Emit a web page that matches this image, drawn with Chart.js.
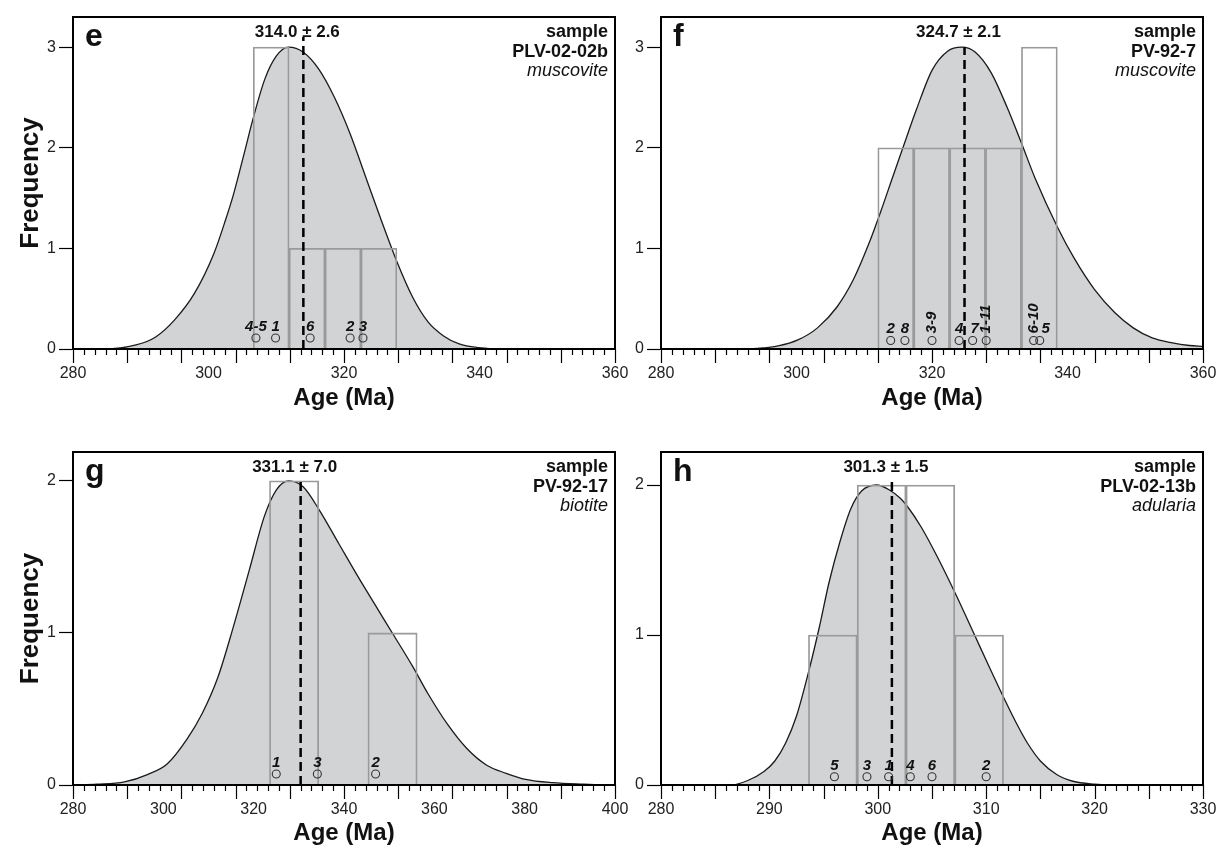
<!DOCTYPE html>
<html>
<head>
<meta charset="utf-8">
<script src="https://cdn.jsdelivr.net/npm/chart.js@4.4.0/dist/chart.umd.min.js"></script>
<style>
  body { margin: 0; background: #fff; width: 1218px; height: 849px; position: relative; overflow: hidden; }
  .panel { position: absolute; }
</style>
</head>
<body>
<div class="panel" style="left:0;top:0"><canvas id="chartE" width="630" height="420"></canvas></div>
<div class="panel" style="left:588px;top:0"><canvas id="chartF" width="630" height="420"></canvas></div>
<div class="panel" style="left:0;top:430px"><canvas id="chartG" width="630" height="419"></canvas></div>
<div class="panel" style="left:588px;top:430px"><canvas id="chartH" width="630" height="419"></canvas></div>
<script>
// tick labels
const ageTicksE = [280, 300, 320, 340, 360];
const ageTicksF = [280, 300, 320, 340, 360];
const ageTicksG = [280, 300, 320, 340, 360, 380, 400];
const ageTicksH = [280, 290, 300, 310, 320, 330];
const freqTicks3 = [0, 1, 2, 3];
const freqTicks2 = [0, 1, 2];

// e - PLV-02-02b muscovite
const eCurveAge = [280, 284.5, 289.3, 292.2, 295.0, 297.9, 300.8, 302.5, 303.7, 305.4, 306.5, 308.3, 310.0, 311.8, 314.0, 316.3, 318.6, 320.9, 323.2, 325.5, 327.8, 330.1, 332.4, 334.7, 337.0, 339.9, 343.3, 360];
const eCurveFreq = [0, 0, 0.04, 0.12, 0.29, 0.55, 0.95, 1.28, 1.54, 1.98, 2.27, 2.68, 2.91, 3.0, 2.95, 2.78, 2.5, 2.14, 1.71, 1.28, 0.87, 0.52, 0.27, 0.13, 0.05, 0.013, 0, 0];
const eBinEdges = [306.6, 311.9, 317.2, 322.5, 327.8];
const eBinCounts = [3, 1, 1, 1];
const eGrainAge = [307.0, 309.9, 315.0, 320.9, 322.8];
const eGrainLabel = ['4-5', '1', '6', '2', '3'];
const eMean = 314.0;
const eMeanText = '314.0 ± 2.6';

// f - PV-92-7 muscovite
const fCurveAge = [280, 292.6, 295.0, 297.3, 300.2, 303.1, 306.0, 308.4, 310.7, 312.4, 314.2, 315.6, 317.7, 320.0, 322.3, 324.4, 326.4, 328.7, 331.1, 333.3, 335.2, 338.6, 341.0, 344.0, 347.0, 349.7, 352.5, 355.5, 358.0, 360];
const fCurveFreq = [0, 0, 0.01, 0.03, 0.09, 0.21, 0.42, 0.69, 1.05, 1.36, 1.71, 1.98, 2.38, 2.77, 2.96, 3.0, 2.95, 2.75, 2.40, 2.03, 1.70, 1.20, 0.90, 0.59, 0.36, 0.21, 0.11, 0.06, 0.035, 0.026];
const fBinEdges = [312.0, 317.3, 322.6, 327.9, 333.2, 338.5];
const fBinCounts = [2, 2, 2, 2, 3];
const fGrainAge = [313.9, 316.0, 320.0, 324.0, 326.0, 328.0, 335.0, 335.9];
const fGrainLabel = ['2', '8', '3-9', '4', '7', '1-11', '6-10', '5'];
const fMean = 324.8;
const fMeanText = '324.7 ± 2.1';

// g - PV-92-17 biotite
const gCurveAge = [280, 285.3, 291.4, 296.6, 300.9, 305.2, 308.6, 312.1, 315.5, 319.0, 322.4, 325.0, 327.8, 331.0, 334.5, 338.8, 343.1, 347.4, 350.9, 355.2, 358.6, 362.9, 367.2, 371.6, 375.9, 380.2, 386.2, 393.1, 398.3, 400];
const gCurveFreq = [0, 0.005, 0.02, 0.07, 0.14, 0.30, 0.47, 0.71, 1.04, 1.41, 1.77, 1.94, 2.0, 1.96, 1.81, 1.59, 1.37, 1.16, 0.99, 0.78, 0.60, 0.40, 0.24, 0.13, 0.077, 0.037, 0.015, 0.005, 0, 0];
const gBinEdges = [323.5, 334.4, 345.3, 356.2];
const gBinCounts = [2, 0, 1];
const gGrainAge = [325.0, 334.1, 347.0];
const gGrainLabel = ['1', '3', '2'];
const gMean = 330.4;
const gMeanText = '331.1 ± 7.0';

// h - PLV-02-13b adularia
const hCurveAge = [280, 286.5, 288.0, 289.5, 290.5, 291.5, 292.5, 293.6, 294.6, 295.5, 296.5, 297.5, 298.5, 299.9, 301.0, 302.1, 302.7, 304.0, 305.5, 307.2, 308.8, 310.2, 311.7, 312.8, 313.8, 315.0, 316.5, 318.0, 320.0, 322.0, 330];
const hCurveFreq = [0, 0, 0.03, 0.09, 0.16, 0.28, 0.46, 0.75, 1.05, 1.35, 1.62, 1.84, 1.96, 2.0, 1.97, 1.91, 1.86, 1.72, 1.52, 1.27, 1.02, 0.80, 0.57, 0.41, 0.28, 0.16, 0.07, 0.025, 0.006, 0, 0];
const hBinEdges = [293.6, 298.1, 302.6, 307.1, 311.6];
const hBinCounts = [1, 2, 2, 1];
const hGrainAge = [296.0, 299.0, 301.0, 303.0, 305.0, 310.0];
const hGrainLabel = ['5', '3', '1', '4', '6', '2'];
const hMean = 301.3;
const hMeanText = '301.3 ± 1.5';

const FONT = '"Liberation Sans", Arial, sans-serif';
Chart.defaults.font.family = FONT;
Chart.defaults.color = '#222';

// labels that stand on end above their circle, and small sideways nudges
const uprightLabels = ['3-9', '1-11', '6-10'];
const labelNudge = { 'f5': 6, 'f7': 2 };

function decor(o) {
  return {
    id: 'decor' + o.letter,
    afterDraw(chart) {
      const { ctx, chartArea: a, scales: { x, y } } = chart;
      ctx.save();
      // x tick marks: 10 major divisions, 5 minor each
      ctx.strokeStyle = '#000';
      ctx.lineWidth = 1.2;
      const n = 50;
      for (let i = 0; i <= n; i++) {
        const v = x.min + (x.max - x.min) * i / n;
        const px = Math.round(x.getPixelForValue(v)) + 0.5;
        const len = i % 5 === 0 ? 14 : 6;
        ctx.beginPath();
        ctx.moveTo(px, a.bottom);
        ctx.lineTo(px, a.bottom + len);
        ctx.stroke();
      }
      // frame
      ctx.lineWidth = 2;
      ctx.strokeRect(a.left, a.top, a.right - a.left, a.bottom - a.top);

      ctx.fillStyle = '#111';
      // panel letter
      ctx.font = 'bold 32px ' + FONT;
      ctx.textAlign = 'left';
      ctx.textBaseline = 'alphabetic';
      ctx.fillText(o.letter, a.left + 12, a.top + 29);

      // sample block
      ctx.textAlign = 'right';
      ctx.font = 'bold 18px ' + FONT;
      ctx.fillText('sample', a.right - 7, a.top + 20);
      ctx.fillText(o.sample, a.right - 7, a.top + 40);
      ctx.font = 'italic 18px ' + FONT;
      ctx.fillText(o.mineral, a.right - 7, a.top + 59);

      // weighted mean label
      ctx.textAlign = 'center';
      ctx.font = 'bold 17px ' + FONT;
      ctx.fillText(o.meanText, x.getPixelForValue(o.mean) - 6, a.top + 20);

      // grain labels
      ctx.font = 'italic bold 15px ' + FONT;
      const py = y.getPixelForValue(o.dotLevel);
      o.grainAge.forEach((age, i) => {
        const t = o.grainLabel[i];
        const px = x.getPixelForValue(age) + (labelNudge[o.letter + t] || 0);
        if (o.letter === 'f' && uprightLabels.includes(t)) {
          ctx.save();
          ctx.translate(px, py - 7);
          ctx.rotate(-Math.PI / 2);
          ctx.textAlign = 'left';
          ctx.textBaseline = 'middle';
          ctx.fillText(t, 0, 0);
          ctx.restore();
        } else {
          ctx.textAlign = 'center';
          ctx.textBaseline = 'alphabetic';
          ctx.fillText(t, px, py - 7);
        }
      });
      ctx.restore();
    }
  };
}

function makePanel(id, o) {
  const curve = o.curveAge.map((a, i) => ({ x: a, y: o.curveFreq[i] }));
  const bars = o.binCounts.map((c, i) => ({ x: (o.binEdges[i] + o.binEdges[i + 1]) / 2, y: c }));
  const grains = o.grainAge.map(a => ({ x: a, y: o.dotLevel }));
  const meanLine = [{ x: o.mean, y: 0 }, { x: o.mean, y: o.meanTop }];

  new Chart(document.getElementById(id), {
    type: 'line',
    data: {
      datasets: [
        { type: 'line', data: curve, fill: 'origin', backgroundColor: '#d1d3d4', borderColor: '#1a1a1a',
          borderWidth: 1.3, pointRadius: 0, cubicInterpolationMode: 'monotone', order: 4 },
        { type: 'bar', data: bars, backgroundColor: 'rgba(0,0,0,0)', borderColor: '#9a9a9a', borderWidth: 1.1,
          barPercentage: 1, categoryPercentage: 1, order: 3 },
        { type: 'line', data: meanLine, borderColor: '#000', borderWidth: 2.5, borderDash: [9, 5],
          pointRadius: 0, fill: false, order: 2 },
        { type: 'scatter', data: grains, pointRadius: 4, borderColor: '#333', borderWidth: 1.1,
          backgroundColor: 'rgba(0,0,0,0)', order: 1 }
      ]
    },
    options: {
      responsive: false,
      animation: false,
      events: [],
      layout: { padding: { top: o.padTop, right: 0, bottom: 0, left: 0 } },
      plugins: { legend: { display: false }, tooltip: { enabled: false } },
      scales: {
        x: {
          type: 'linear', min: o.xTicks[0], max: o.xTicks[o.xTicks.length - 1], offset: false,
          afterBuildTicks: s => { s.ticks = o.xTicks.map(v => ({ value: v })); },
          afterFit: s => { s.height = o.xAxisHeight; s.paddingLeft = 0; s.paddingRight = 15; },
          grid: { display: false, drawTicks: false, offset: false },
          border: { display: true, color: '#000', width: 2 },
          ticks: { padding: 15, autoSkip: false, maxRotation: 0, color: '#222', font: { size: 16 } },
          title: { display: true, text: 'Age (Ma)', color: '#111', font: { size: 24, weight: 'bold' },
                   padding: { top: 0, bottom: o.xTitlePad } }
        },
        y: {
          type: 'linear', min: 0, max: o.yMax,
          afterBuildTicks: s => { s.ticks = o.yTicks.map(v => ({ value: v })); },
          afterFit: s => { s.width = 73; },
          grid: { drawOnChartArea: false, tickLength: 14, tickColor: '#000', tickWidth: 1.2 },
          border: { display: true, color: '#000', width: 2 },
          ticks: { padding: 3, color: '#222', font: { size: 16 } },
          title: { display: o.showYTitle, text: 'Frequency', color: '#111', font: { size: 26, weight: 'bold' },
                   padding: { top: 15, bottom: 0 } }
        }
      }
    },
    plugins: [decor(o)]
  });
}

makePanel('chartE', {
  letter: 'e', sample: 'PLV-02-02b', mineral: 'muscovite',
  curveAge: eCurveAge, curveFreq: eCurveFreq, binEdges: eBinEdges, binCounts: eBinCounts,
  grainAge: eGrainAge, grainLabel: eGrainLabel, mean: eMean, meanText: eMeanText, meanTop: 3.1,
  xTicks: ageTicksE, yTicks: freqTicks3, yMax: 3.3, dotLevel: 0.11,
  padTop: 17, xAxisHeight: 71, xTitlePad: 7, showYTitle: true
});
makePanel('chartF', {
  letter: 'f', sample: 'PV-92-7', mineral: 'muscovite',
  curveAge: fCurveAge, curveFreq: fCurveFreq, binEdges: fBinEdges, binCounts: fBinCounts,
  grainAge: fGrainAge, grainLabel: fGrainLabel, mean: fMean, meanText: fMeanText, meanTop: 3.0,
  xTicks: ageTicksF, yTicks: freqTicks3, yMax: 3.3, dotLevel: 0.085,
  padTop: 17, xAxisHeight: 71, xTitlePad: 7, showYTitle: false
});
makePanel('chartG', {
  letter: 'g', sample: 'PV-92-17', mineral: 'biotite',
  curveAge: gCurveAge, curveFreq: gCurveFreq, binEdges: gBinEdges, binCounts: gBinCounts,
  grainAge: gGrainAge, grainLabel: gGrainLabel, mean: gMean, meanText: gMeanText, meanTop: 2.0,
  xTicks: ageTicksG, yTicks: freqTicks2, yMax: 2.19, dotLevel: 0.072,
  padTop: 22, xAxisHeight: 64, xTitlePad: 1, showYTitle: true
});
makePanel('chartH', {
  letter: 'h', sample: 'PLV-02-13b', mineral: 'adularia',
  curveAge: hCurveAge, curveFreq: hCurveFreq, binEdges: hBinEdges, binCounts: hBinCounts,
  grainAge: hGrainAge, grainLabel: hGrainLabel, mean: hMean, meanText: hMeanText, meanTop: 2.03,
  xTicks: ageTicksH, yTicks: freqTicks2, yMax: 2.22, dotLevel: 0.055,
  padTop: 22, xAxisHeight: 64, xTitlePad: 1, showYTitle: false
});
</script>
</body>
</html>
